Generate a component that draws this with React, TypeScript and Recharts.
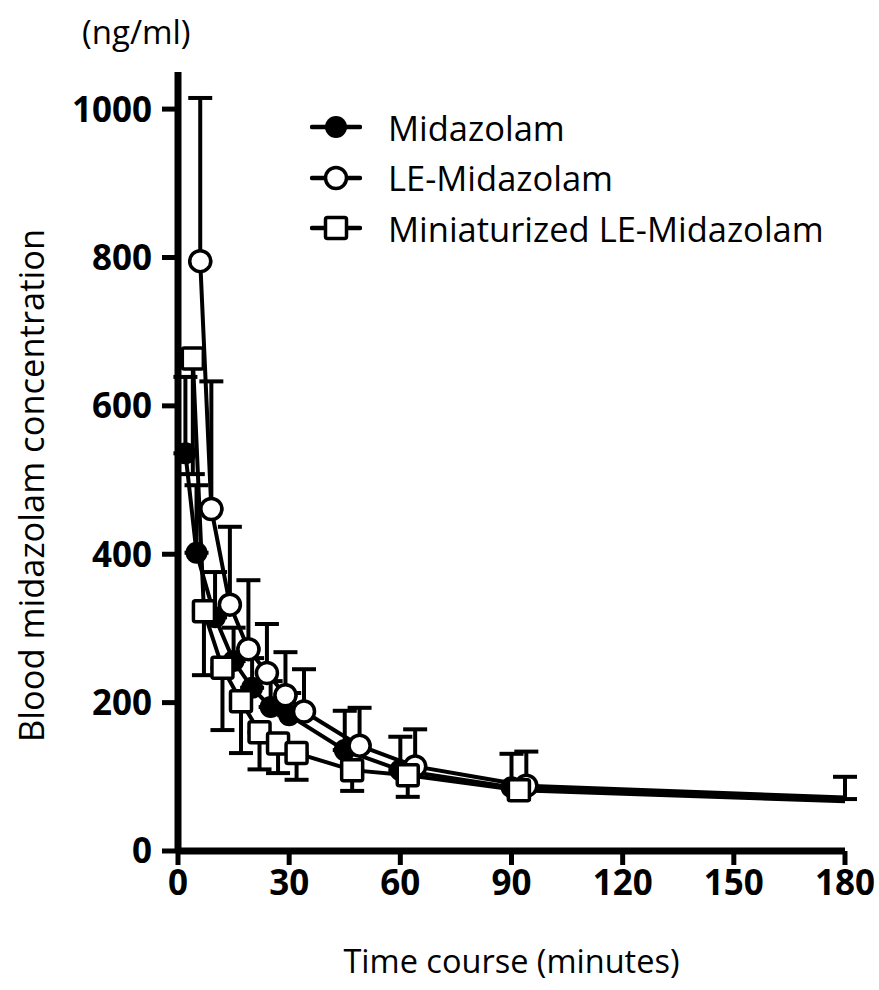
import { LineChart, Line, XAxis, YAxis, ErrorBar, Legend, Label } from "recharts";

const FONT = "'Open Sans', 'Liberation Sans', sans-serif";

// sampling times (min); each group is nudged sideways a bit, like the original plot
const midTimes = [2, 5, 10, 15, 20, 25, 30, 45, 60, 90, 180];
const leTimes = [6, 9, 14, 19, 24, 29, 34, 49, 64, 94, 180];
const miniTimes = [4, 7, 12, 17, 22, 27, 32, 47, 62, 92, 180];

// mean blood midazolam concentration (ng/ml)
const midMean = [536, 402, 315, 256, 220, 194, 183, 136, 109, 86, 70];
const leMean = [795, 461, 332, 272, 240, 210, 188, 142, 114, 88, 72];
const miniMean = [664, 323, 247, 202, 160, 145, 132, 109, 102, 82, 67];

// SD, shown on one side only (null = no bar)
const midSdUp = [103, 91, 61, 45, 40, 35, 30, 53, 45, 45, 30];
const leSdUp = [220, 172, 105, 93, 66, 58, 57, 51, 50, 46, null];
const miniSdDown = [156, 86, 84, 70, 50, 40, 36, 28, 29, 12, null];

const seriesNames = ["Midazolam", "LE-Midazolam", "Miniaturized LE-Midazolam"];
const xTicks = [0, 30, 60, 90, 120, 150, 180];
const yTicks = [0, 200, 400, 600, 800, 1000];

const midData = midTimes.map((t, i) => ({
  t,
  conc: midMean[i],
  sd: midSdUp[i] == null ? null : [0, midSdUp[i]],
}));
const leData = leTimes.map((t, i) => ({
  t,
  conc: leMean[i],
  sd: leSdUp[i] == null ? null : [0, leSdUp[i]],
}));
const miniData = miniTimes.map((t, i) => ({
  t,
  conc: miniMean[i],
  sd: miniSdDown[i] == null ? null : [miniSdDown[i], 0],
}));

// the 180 min points are drawn without a symbol
const noSymbol = (p: any) => p.payload && p.payload.t === 180;

function FilledDot(p: any) {
  if (noSymbol(p)) return <g key={`f${p.index}`} />;
  return <circle key={`f${p.index}`} cx={p.cx} cy={p.cy} r={11} fill="#000" />;
}

function OpenDot(p: any) {
  if (noSymbol(p)) return <g key={`o${p.index}`} />;
  return (
    <circle key={`o${p.index}`} cx={p.cx} cy={p.cy} r={10.5} fill="#fff" stroke="#000" strokeWidth={3.5} />
  );
}

function SquareDot(p: any) {
  if (noSymbol(p)) return <g key={`s${p.index}`} />;
  return (
    <rect
      key={`s${p.index}`}
      x={p.cx - 10.5}
      y={p.cy - 10.5}
      width={21}
      height={21}
      rx={2}
      fill="#fff"
      stroke="#000"
      strokeWidth={3.5}
    />
  );
}

const legendIcons: Record<string, JSX.Element> = {
  Midazolam: <circle cx={26} cy={15} r={11} fill="#000" />,
  "LE-Midazolam": <circle cx={26} cy={15} r={10.5} fill="#fff" stroke="#000" strokeWidth={3.5} />,
  "Miniaturized LE-Midazolam": (
    <rect x={15.5} y={4.5} width={21} height={21} rx={2} fill="#fff" stroke="#000" strokeWidth={3.5} />
  ),
};

const renderLegend = (props: any) => {
  const items = [...(props.payload || [])].sort(
    (a: any, b: any) => seriesNames.indexOf(a.value) - seriesNames.indexOf(b.value)
  );
  return (
    <div style={{ fontFamily: FONT, fontSize: 34.5, color: "#000" }}>
      {items.map((item: any) => (
        <div key={item.value} style={{ display: "flex", alignItems: "center", height: 50.5 }}>
          <svg width={52} height={30} style={{ marginRight: 26, flex: "none" }}>
            <line x1={2} y1={15} x2={50} y2={15} stroke="#000" strokeWidth={4.5} strokeLinecap="round" />
            {legendIcons[item.value]}
          </svg>
          <span style={{ whiteSpace: "nowrap" }}>{item.value}</span>
        </div>
      ))}
    </div>
  );
};

const tickStyle = { fill: "#000", fontSize: 35, fontWeight: 700, fontFamily: FONT };
const axisLineStyle = { stroke: "#000", strokeWidth: 7 };
const tickLineStyle = { stroke: "#000", strokeWidth: 5 };

export default function App() {
  return (
    <div style={{ position: "absolute", left: 0, top: 0, background: "#fff" }}>
      <div
        style={{
          position: "absolute",
          left: 82,
          top: 12,
          fontFamily: FONT,
          fontSize: 33,
          lineHeight: "40px",
          color: "#000",
          zIndex: 2,
        }}
      >
        (ng/ml)
      </div>
      <LineChart width={879} height={990} margin={{ top: 72, right: 34, bottom: 59, left: 0 }}>
        <XAxis
          dataKey="t"
          type="number"
          domain={[0, 180]}
          ticks={xTicks}
          tick={tickStyle}
          tickSize={14}
          tickMargin={5}
          stroke="#000"
          strokeWidth={5}
          axisLine={axisLineStyle}
          tickLine={tickLineStyle}
          height={80}
          allowDataOverflow
        >
          <Label
            value="Time course (minutes)"
            position="bottom"
            offset={19}
            style={{ fill: "#000", fontSize: 32.5, fontFamily: FONT }}
          />
        </XAxis>
        <YAxis
          type="number"
          domain={[0, 1050]}
          ticks={yTicks}
          tick={tickStyle}
          tickSize={16}
          tickMargin={10}
          stroke="#000"
          strokeWidth={5}
          axisLine={axisLineStyle}
          tickLine={tickLineStyle}
          width={178}
          allowDataOverflow
        >
          <Label
            content={(p: any) => {
              const vb = p.viewBox || { x: 0, y: 72, width: 178, height: 779 };
              const cx = vb.x + 30;
              const cy = vb.y + vb.height / 2 + 24;
              return (
                <text
                  x={cx}
                  y={cy}
                  transform={`rotate(-90 ${cx} ${cy})`}
                  textAnchor="middle"
                  dominantBaseline="central"
                  fill="#000"
                  fontSize={34.5}
                  fontFamily={FONT}
                >
                  Blood midazolam concentration
                </text>
              );
            }}
          />
        </YAxis>
        <Legend
          layout="vertical"
          align="center"
          verticalAlign="middle"
          content={renderLegend}
          wrapperStyle={{ left: 310, top: 102, width: 560 }}
        />
        <Line
          name="Midazolam"
          data={midData}
          dataKey="conc"
          type="linear"
          stroke="#000"
          strokeWidth={4}
          dot={FilledDot}
          activeDot={false}
          isAnimationActive={false}
        >
          <ErrorBar dataKey="sd" direction="y" width={12} stroke="#000" strokeWidth={4} />
        </Line>
        <Line
          name="LE-Midazolam"
          data={leData}
          dataKey="conc"
          type="linear"
          stroke="#000"
          strokeWidth={4}
          dot={OpenDot}
          activeDot={false}
          isAnimationActive={false}
        >
          <ErrorBar dataKey="sd" direction="y" width={12} stroke="#000" strokeWidth={4} />
        </Line>
        <Line
          name="Miniaturized LE-Midazolam"
          data={miniData}
          dataKey="conc"
          type="linear"
          stroke="#000"
          strokeWidth={4}
          dot={SquareDot}
          activeDot={false}
          isAnimationActive={false}
        >
          <ErrorBar dataKey="sd" direction="y" width={12} stroke="#000" strokeWidth={4} />
        </Line>
      </LineChart>
    </div>
  );
}
